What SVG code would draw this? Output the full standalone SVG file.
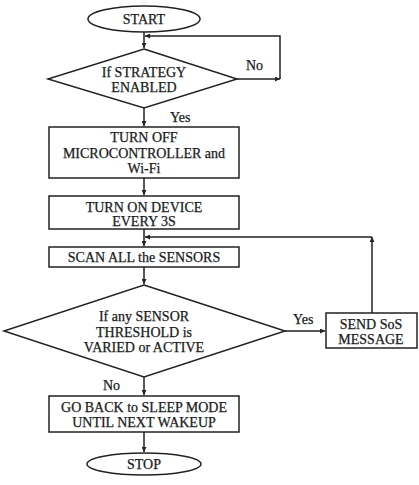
<svg xmlns="http://www.w3.org/2000/svg" width="419" height="485" viewBox="0 0 419 485">
<defs>
<marker id="ah" viewBox="0 0 10 10" refX="10" refY="5" markerWidth="5" markerHeight="5" orient="auto" markerUnits="userSpaceOnUse">
<path d="M0,0 L10,5 L0,10 z" fill="#222"/>
</marker>
<style>
.s{fill:#fff;stroke:#222;stroke-width:1.5}
.c{fill:none;stroke:#222;stroke-width:1.5}
.t{font-family:"Liberation Serif","Times New Roman",serif;font-size:14px;fill:#1a1a1a;stroke:#1a1a1a;stroke-width:0.25;text-anchor:middle}
.l{font-family:"Liberation Serif","Times New Roman",serif;font-size:14px;fill:#1a1a1a;stroke:#1a1a1a;stroke-width:0.25}
</style>
</defs>
<rect width="419" height="485" fill="#fff"/>
<g id="connectors">
<path class="c" d="M144,32 V48" marker-end="url(#ah)"/>
<path class="c" d="M237,79 H280" marker-end="url(#ah)"/>
<path class="c" d="M280,79 V36 H145" marker-end="url(#ah)"/>
<path class="c" d="M144,108 V126" marker-end="url(#ah)"/>
<path class="c" d="M144,178 V195" marker-end="url(#ah)"/>
<path class="c" d="M144,229 V246" marker-end="url(#ah)"/>
<path class="c" d="M144,267 V284" marker-end="url(#ah)"/>
<path class="c" d="M285,331 H325" marker-end="url(#ah)"/>
<path class="c" d="M372,313 V237" marker-end="url(#ah)"/>
<path class="c" d="M372,237 H145" marker-end="url(#ah)"/>
<path class="c" d="M144,377 V395" marker-end="url(#ah)"/>
<path class="c" d="M144,432 V452" marker-end="url(#ah)"/>
<text class="l" x="246" y="70">No</text>
<text class="l" x="170" y="122">Yes</text>
<text class="l" x="293" y="324">Yes</text>
<text class="l" x="103" y="390">No</text>
</g>
<g id="start">
<ellipse class="s" cx="144" cy="19" rx="56" ry="13"/>
<text class="t" x="144" y="24">START</text>
</g>
<g id="strategy">
<polygon class="s" points="144,49 237,79 144,108 48,79"/>
<text class="t" x="144" y="77">If STRATEGY</text>
<text class="t" x="144" y="92">ENABLED</text>
</g>
<g id="turnoff">
<rect class="s" x="49" y="127" width="190" height="51"/>
<text class="t" x="144" y="142">TURN OFF</text>
<text class="t" x="144" y="158">MICROCONTROLLER and</text>
<text class="t" x="144" y="173">Wi-Fi</text>
</g>
<g id="turnon">
<rect class="s" x="49" y="196" width="190" height="33"/>
<text class="t" x="144" y="212">TURN ON DEVICE</text>
<text class="t" x="144" y="226">EVERY 3S</text>
</g>
<g id="scan">
<rect class="s" x="49" y="247" width="190" height="20"/>
<text class="t" x="144" y="262">SCAN ALL the SENSORS</text>
</g>
<g id="threshold">
<polygon class="s" points="144,285 285,331 144,377 4,331"/>
<text class="t" x="144" y="321">If any SENSOR</text>
<text class="t" x="144" y="337">THRESHOLD is</text>
<text class="t" x="144" y="352">VARIED or ACTIVE</text>
</g>
<g id="sos">
<rect class="s" x="326" y="313" width="91" height="35"/>
<text class="t" x="371" y="329">SEND SoS</text>
<text class="t" x="371" y="344">MESSAGE</text>
</g>
<g id="sleep">
<rect class="s" x="49" y="396" width="190" height="36"/>
<text class="t" x="144" y="412">GO BACK to SLEEP MODE</text>
<text class="t" x="144" y="427">UNTIL NEXT WAKEUP</text>
</g>
<g id="stop">
<ellipse class="s" cx="144" cy="464" rx="57" ry="11"/>
<text class="t" x="144" y="469">STOP</text>
</g>
</svg>
